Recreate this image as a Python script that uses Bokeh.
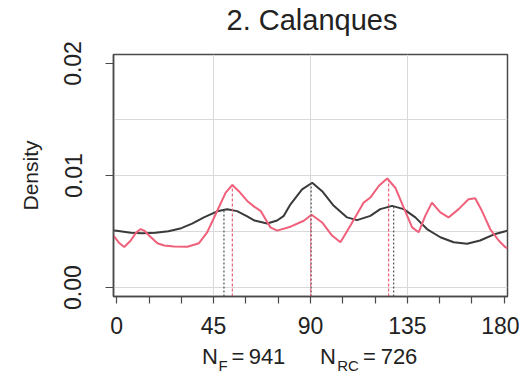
from bokeh.plotting import figure
from bokeh.models import Range1d, FixedTicker, LinearAxis
from bokeh.embed import file_html
from bokeh.resources import INLINE

# ---------------- data ----------------
title_text = "2. Calanques"
y_label = "Density"
x_ticks = [0, 45, 90, 135, 180]
x_minor_ticks = [15, 30, 60, 75, 105, 120, 150, 165]
x_grid = [45, 90, 135]
y_ticks = [0.0, 0.01, 0.02]
y_tick_labels = ["0.00", "0.01", "0.02"]
y_grid = [0.0, 0.005, 0.01, 0.015]
n_f = 941
n_rc = 726

# black (F) density curve
f_x = [-1.5, 0, 6.5, 12, 18, 24, 30, 35, 40.5, 46.7, 51.3, 55.9, 60.6, 64, 69.9,
       74.5, 77.6, 80.7, 86.1, 90.8, 95.4, 100.8, 107, 111.6, 117.8, 122.4, 127.9,
       133.3, 138.7, 144.1, 150.3, 156.5, 162.7, 168.8, 175, 180.5, 181.5]
f_y = [0.00510, 0.00507, 0.00490, 0.00484, 0.00488, 0.00502, 0.00530, 0.00570,
       0.00626, 0.00680, 0.00698, 0.00682, 0.00635, 0.00598, 0.00572,
       0.00598, 0.00640, 0.00743, 0.00876, 0.00935, 0.00860, 0.00729, 0.00626,
       0.00602, 0.00640, 0.00700, 0.00729, 0.00700, 0.00626, 0.00522, 0.00449,
       0.00404, 0.00390, 0.00420, 0.00473, 0.00502, 0.00508]

# red (RC) density curve
rc_x = [-1.5, 1, 3.5, 6.5, 9, 11.1, 13, 15, 18.9, 22, 26.6, 32.8, 38.2, 42, 46.7,
        50.6, 53.7, 56.7, 60.6, 64, 66.8, 71.4, 74.5, 80.7, 86.9, 90.5, 95.4, 100,
        103.9, 108.5, 114.7, 117.8, 121.7, 125.6, 129.4, 133.3, 137.2, 140.2,
        143.3, 146.4, 150.3, 154.1, 158.8, 163.4, 166.5, 169.6, 173.5, 177.4,
        180.5, 181.5]
rc_y = [0.00464, 0.00400, 0.00362, 0.00420, 0.00490, 0.00522, 0.00505, 0.00464,
        0.00395, 0.00375, 0.00366, 0.00364, 0.00396, 0.00493, 0.00685,
        0.00847, 0.00915, 0.00860, 0.00773, 0.00720, 0.00685, 0.00537, 0.00508,
        0.00543, 0.00596, 0.00650, 0.00581, 0.00464, 0.00404, 0.00552, 0.00758,
        0.00803, 0.00906, 0.00973, 0.00891, 0.00714, 0.00537, 0.00493, 0.00640,
        0.00758, 0.00670, 0.00626, 0.00700, 0.00788, 0.00797, 0.00685, 0.00520,
        0.00420, 0.00360, 0.00350]

# modes marked by vertical lines
f_modes = [49.8, 90.3, 128.6]
f_peaks = [0.00690, 0.00930, 0.00728]
rc_modes = [53.7, 90.1, 126.3]
rc_peaks = [0.00918, 0.00650, 0.00972]

# x-axis caption  N_F = 941    N_RC = 726  (pieces and subscripts)
cap_text = ["N", "=", str(n_f), "N", "=", str(n_rc)]
sub_text = ["F", "RC"]

# ---------------- figure ----------------
FONT = "Liberation Sans"
AX = "#4a4a4a"
TXT = "#222222"
y0, y1 = -0.0008, 0.0208
FRAME_W = 394

p = figure(width=519, height=376,
           x_range=Range1d(-1.5, 181.5), y_range=Range1d(y0, y1),
           output_backend="svg", toolbar_location=None,
           min_border_left=113, min_border_right=12,
           min_border_top=54, min_border_bottom=77)
p.extra_x_ranges = {"cap": Range1d(0, FRAME_W)}
p.title.text = ""

p.background_fill_color = "white"
p.border_fill_color = "white"
p.outline_line_color = AX
p.outline_line_width = 1.5

# grids
p.xgrid.ticker = FixedTicker(ticks=x_grid)
p.ygrid.ticker = FixedTicker(ticks=y_grid)
for g in (p.xgrid, p.ygrid):
    g.grid_line_color = "#d9d9d9"
    g.grid_line_width = 1

# x axis
xa = p.xaxis[0]
xa.ticker = FixedTicker(ticks=x_ticks, minor_ticks=x_minor_ticks)
xa.major_tick_out = 7
xa.major_tick_in = 0
xa.minor_tick_out = 7
xa.minor_tick_in = 0
xa.major_label_standoff = 13

# y axis
ya = p.yaxis[0]
ya.ticker = FixedTicker(ticks=y_ticks)
ya.major_label_overrides = {t: s for t, s in zip(y_ticks, y_tick_labels)}
ya.major_label_orientation = "vertical"
ya.major_tick_out = 8
ya.major_tick_in = 0
ya.minor_tick_out = 0
ya.minor_tick_in = 0
ya.major_label_standoff = 24
ya.axis_label = y_label
ya.axis_label_standoff = 20
ya.axis_label_text_font = FONT
ya.axis_label_text_font_size = "21px"
ya.axis_label_text_font_style = "normal"
ya.axis_label_text_color = TXT

for a in (xa, ya):
    a.axis_line_color = AX
    a.axis_line_width = 1.5
    a.major_tick_line_color = AX
    a.minor_tick_line_color = AX
    a.major_tick_line_width = 1.2
    a.minor_tick_line_width = 1.2
    a.major_label_text_font = FONT
    a.major_label_text_font_size = "23px"
    a.major_label_text_color = TXT


def text_axis(pos, texts, size, standoff, side):
    ax = LinearAxis(x_range_name="cap",
                    ticker=FixedTicker(ticks=pos, minor_ticks=[]),
                    major_label_overrides={t: s for t, s in zip(pos, texts)},
                    axis_line_color=None, major_tick_line_color=None,
                    minor_tick_line_color=None,
                    major_tick_out=0, major_tick_in=0,
                    minor_tick_out=0, minor_tick_in=0,
                    major_label_standoff=standoff,
                    major_label_text_font=FONT,
                    major_label_text_font_size=size,
                    major_label_text_color=TXT)
    p.add_layout(ax, side)


# title (centred above the frame)
text_axis([198.5], [title_text], "29px", 19, "above")

# caption as two label-only axes (main text and lowered subscripts)
cap_pos = [96.5, 124.5, 153.5, 214.5, 256, 285.5]
sub_pos = [109.5, 234.5]
text_axis(cap_pos, cap_text, "22px", 7, "below")
text_axis(sub_pos, sub_text, "15px", -15, "below")

# curves
p.line(f_x, f_y, line_color="#3a3a3a", line_width=2)
p.line(rc_x, rc_y, line_color="#f0607a", line_width=2)

# mode lines
p.segment(x0=f_modes, y0=[y0] * len(f_modes), x1=f_modes, y1=f_peaks,
          line_color="#5a5a5a", line_width=1.3, line_dash="2 2")
p.segment(x0=rc_modes, y0=[y0] * len(rc_modes), x1=rc_modes, y1=rc_peaks,
          line_color="#e8607a", line_width=1.2, line_dash="3 2")

open("out.html", "w").write(file_html(p, INLINE))
